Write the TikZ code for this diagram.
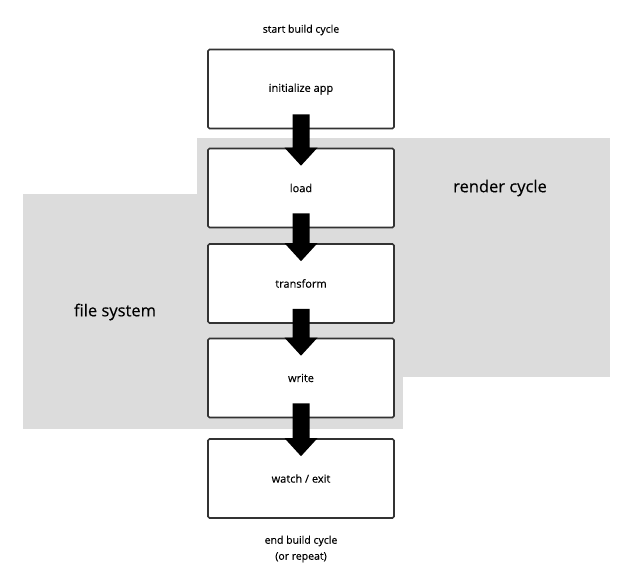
\documentclass[tikz,border=0pt]{standalone}
\usepackage{fontspec}
\setmainfont{Open Sans}[FakeBold=0.35]
\usetikzlibrary{calc}
\definecolor{zonegray}{HTML}{DCDCDC}
\definecolor{boxline}{HTML}{333333}
\tikzset{
  stepbox/.style={draw=boxline, line width=1.6pt, fill=white, rounded corners=1.5pt,
    minimum width=186pt, minimum height=79pt, inner sep=0pt, font=\fontsize{11}{13}\selectfont},
  zone/.style={fill=zonegray, draw=none},
  zonelabel/.style={font=\fontsize{16.5}{19}\selectfont, inner sep=0pt},
  smalllabel/.style={font=\fontsize{10.5}{16}\selectfont, align=center, inner sep=0pt},
}
\newcommand{\blockarrow}[2]{%
  \fill[black] let \p1=(#1.south), \p2=(#2.north) in
    (\x1-8.5pt,\y1+15pt) -- (\x1+8.5pt,\y1+15pt) -- (\x1+8.5pt,\y2) --
    (\x1+16.5pt,\y2) -- (\x1,\y2-18pt) -- (\x1-16.5pt,\y2) --
    (\x1-8.5pt,\y2) -- cycle;}
\begin{document}
\begin{tikzpicture}[x=1pt,y=-1pt]
\useasboundingbox (0,0) rectangle (633,584);
% zones
\fill[zone] (197,138) rectangle (610,377);
\fill[zone] (23,194) rectangle (403,429);
\node[zonelabel] (rc) at (500,188) {render cycle};
\node[zonelabel] (fs) at (115,312) {file system};
% boxes
\node[stepbox] (init) at (301,89) {initialize app};
\node[stepbox] (load) at (301,188) {load};
\node[stepbox] (trans) at (301,283.5) {transform};
\node[stepbox] (write) at (301,378) {write};
\node[stepbox] (watch) at (301,478.5) {watch / exit};
% labels
\node[smalllabel] (start) at (301,30) {start build cycle};
\node[smalllabel] (end) at (301,549) {end build cycle\\(or repeat)};
% arrows
\blockarrow{init}{load}
\blockarrow{load}{trans}
\blockarrow{trans}{write}
\blockarrow{write}{watch}
\end{tikzpicture}
\end{document}
